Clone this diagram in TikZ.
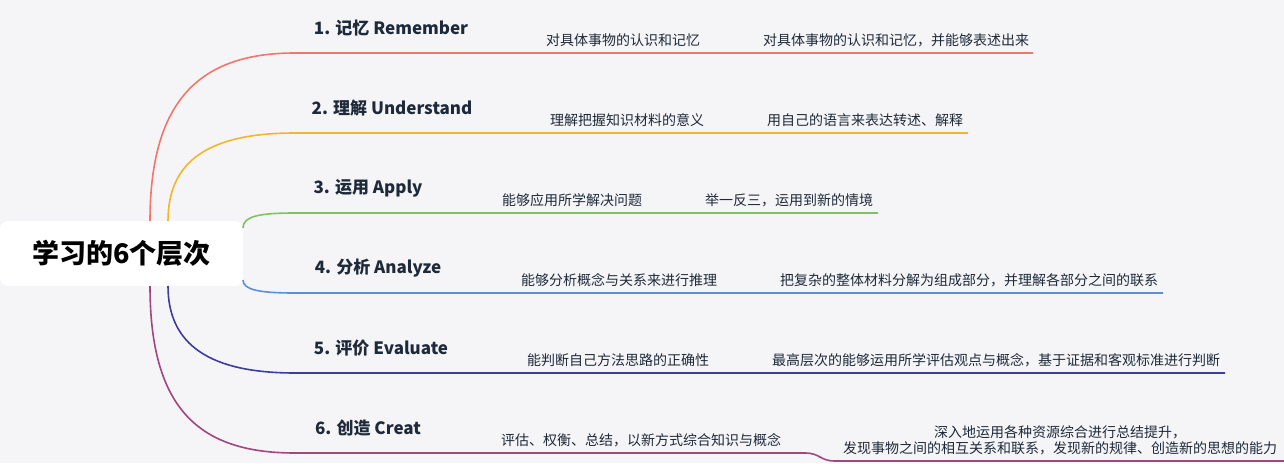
\documentclass[tikz,border=0pt]{standalone}
\usepackage{fontspec}
\setmainfont{Noto Sans CJK SC}
\definecolor{bg}{HTML}{F5F5F8}
\definecolor{cA}{HTML}{F2766A}
\definecolor{cB}{HTML}{F5B528}
\definecolor{cC}{HTML}{7CC463}
\definecolor{cD}{HTML}{5B8FDC}
\definecolor{cE}{HTML}{3E3C9C}
\definecolor{cF}{HTML}{A2467F}
\definecolor{tx}{HTML}{1E2A3A}
\begin{document}
\begin{tikzpicture}[x=1pt,y=-1pt,
 br/.style={line width=1.6pt},
 lvl/.style={font=\bfseries\fontsize{17}{20}\selectfont,text=tx,inner sep=0},
 leaf/.style={font=\fontsize{14}{17}\selectfont,text=tx,inner sep=0,align=center}]
\fill[bg] (0,0) rectangle (1284,463);
\useasboundingbox (0,0) rectangle (1284,463);
\node[fill=white,rounded corners=8pt,minimum width=243pt,minimum height=65pt,font=\bfseries\fontsize{27}{30}\selectfont,text=black] (root) at (121.5,253.5) {学习的6个层次};
% level labels
\node[lvl] (l1) at (391,28) {1. 记忆 Remember};
\node[lvl] (l2) at (392,108) {2. 理解 Understand};
\node[lvl] (l3) at (368,188) {3. 运用 Apply};
\node[lvl] (l4) at (378,268) {4. 分析 Analyze};
\node[lvl] (l5) at (381,348) {5. 评价 Evaluate};
\node[lvl] (l6) at (368,428) {6. 创造 Creat};
% leaves
\node[leaf] (a1) at (623,40) {对具体事物的认识和记忆};
\node[leaf] (a2) at (896,40) {对具体事物的认识和记忆，并能够表述出来};
\node[leaf] (b1) at (627,120) {理解把握知识材料的意义};
\node[leaf] (b2) at (865,120) {用自己的语言来表达转述、解释};
\node[leaf] (c1) at (572,200) {能够应用所学解决问题};
\node[leaf] (c2) at (789,200) {举一反三，运用到新的情境};
\node[leaf] (d1) at (619,280) {能够分析概念与关系来进行推理};
\node[leaf] (d2) at (969,280) {把复杂的整体材料分解为组成部分，并理解各部分之间的联系};
\node[leaf] (e1) at (618,360) {能判断自己方法思路的正确性};
\node[leaf] (e2) at (996,360) {最高层次的能够运用所学评估观点与概念，基于证据和客观标准进行判断};
\node[leaf] (f1) at (641,440) {评估、权衡、总结，以新方式综合知识与概念};
\node[leaf,font=\fontsize{14}{16}\selectfont] (f2) at (1060,440) {深入地运用各种资源综合进行总结提升，\\发现事物之间的相互关系和联系，发现新的规律、创造新的思想的能力};
% coordinates
\coordinate (sA) at (150,221); \coordinate (sB) at (168,221);
\coordinate (sC) at (243,228); \coordinate (sD) at (243,280);
\coordinate (sE) at (168,286); \coordinate (sF) at (150,286);
% branches
\draw[br,cA] (sA) .. controls (150,100) and (200,53) .. (295,53) -- (723,53) -- (1033,53);
\draw[br,cB] (sB) .. controls (168,160) and (210,133) .. (295,133) -- (968,133);
\draw[br,cC] (sC) .. controls (243,216) and (260,213) .. (295,213) -- (878,213);
\draw[br,cD] (sD) .. controls (243,290) and (260,293) .. (295,293) -- (1163,293);
\draw[br,cE] (sE) .. controls (168,345) and (210,373) .. (295,373) -- (1225,373);
\draw[br,cF] (sF) .. controls (150,410) and (200,453) .. (295,453) -- (805,453)
  .. controls (820,453) and (820,461) .. (835,461) -- (1284,461);
\end{tikzpicture}
\end{document}
